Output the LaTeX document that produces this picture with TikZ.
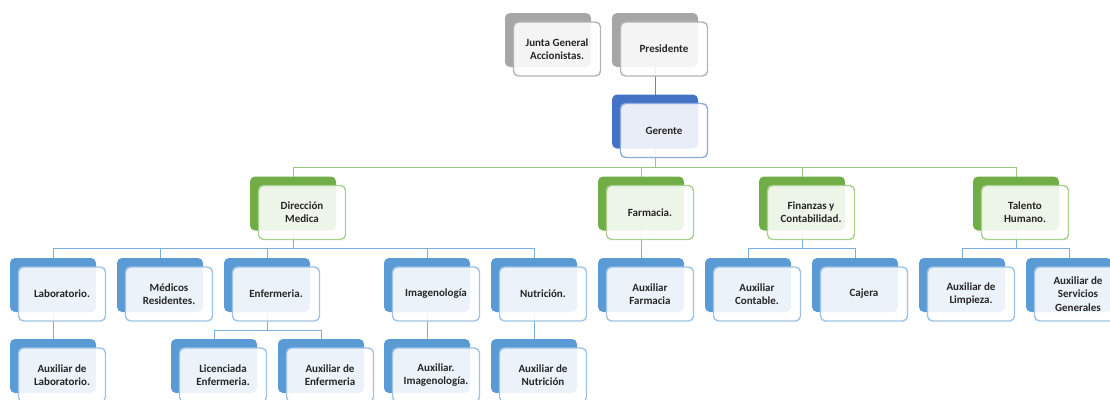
\documentclass[tikz,border=0pt]{standalone}
\usepackage{fontspec}
\setmainfont{Carlito}
\usepackage{tikz}
\usetikzlibrary{positioning, backgrounds}
\definecolor{grisA}{HTML}{A6A6A6}
\definecolor{grisB}{HTML}{B4B4B4}
\definecolor{azulA}{HTML}{4472C4}
\definecolor{azulB}{HTML}{8FAADC}
\definecolor{verdeA}{HTML}{70AD47}
\definecolor{verdeB}{HTML}{A9D18E}
\definecolor{celA}{HTML}{5B9BD5}
\definecolor{celB}{HTML}{9DC3E6}
\definecolor{texto}{HTML}{262626}
\tikzset{
x=1pt, y=-1pt, % pixel coordinates, y grows downwards
back/.style={rounded corners=5pt, minimum width=86pt, minimum height=54pt, inner sep=0pt}, % the dark card behind
front/.style={rounded corners=5pt, minimum width=87pt, minimum height=54pt, inner sep=1pt, line width=1.4pt, fill=white, fill opacity=0.88, text opacity=1, align=center, text=texto, font=\fontsize{11}{13.3}\selectfont\bfseries}, % the light card on top
gris/.style={fill=grisA, draw=grisB}, % top level
azul/.style={fill=azulA, draw=azulB}, % manager
verde/.style={fill=verdeA, draw=verdeB}, % departments
cel/.style={fill=celA, draw=celB}, % staff
linea/.style={line width=1.2pt}, % connectors
}
% one card: name, x, y (centre of the back card), colour style, text
\newcommand{\caja}[5]{
    \node[back, #4, draw=none] (#1-b) at (#2,#3) {};
    \node[front, #4, fill=white] (#1) at ([shift={(9,9)}]#1-b.center) {#5};
}

\begin{document}
\begin{tikzpicture}
                \clip (0,0) rectangle (1110,399);
                % level 0 and 1
                \caja{jun}{548}{40}{gris}{Junta General\\Accionistas.}
                \caja{pre}{655}{40}{gris}{Presidente}
                \caja{ger}{655}{121.5}{azul}{Gerente}
                % departments
                \caja{dir}{293}{203.5}{verde}{Dirección\\Medica}
                \caja{far}{641}{203.5}{verde}{Farmacia.}
                \caja{fin}{802}{203.5}{verde}{Finanzas y\\Contabilidad.}
                \caja{tal}{1016}{203.5}{verde}{Talento\\Humano.}
                % staff
                \caja{lab}{53}{285}{cel}{Laboratorio.}
                \caja{med}{160}{285}{cel}{Médicos\\Residentes.}
                \caja{enf}{267}{285}{cel}{Enfermeria.}
                \caja{ima}{427}{285}{cel}{Imagenología}
                \caja{nut}{534}{285}{cel}{Nutrición.}
                \caja{axf}{641}{285}{cel}{Auxiliar\\Farmacia}
                \caja{axc}{748}{285}{cel}{Auxiliar\\Contable.}
                \caja{caj}{855}{285}{cel}{Cajera}
                \caja{lim}{962}{285}{cel}{Auxiliar de\\Limpieza.}
                \caja{ser}{1069}{285}{cel}{Auxiliar de\\Servicios\\Generales}
                % assistants
                \caja{alb}{53}{366}{cel}{Auxiliar de\\Laboratorio.}
                \caja{lic}{214}{366}{cel}{Licenciada\\Enfermeria.}
                \caja{aen}{321}{366}{cel}{Auxiliar de\\Enfermeria}
                \caja{aim}{427}{366}{cel}{Auxiliar.\\Imagenología.}
                \caja{anu}{534}{366}{cel}{Auxiliar de\\Nutrición}
                % connectors
                \coordinate (bus-ger) at (655,167);
                \coordinate (bus-dir) at (293,248);
                \coordinate (bus-fin) at (802,248);
                \coordinate (bus-tal) at (1016,248);
                \coordinate (bus-enf) at (267,330);
                \begin{scope}[on background layer, linea]
                    \draw[azulA!85] (pre-b.center) -- (ger-b.center);
                    \draw[verdeA!70] (ger-b.center) -- (bus-ger) -| (dir-b.center)
                        (bus-ger) -| (tal-b.center)
                        (bus-ger) -| (far-b.center)
                        (bus-ger) -| (fin-b.center);
                    \draw[celA!80]
                        (dir-b.center) -- (bus-dir) -| (lab-b.center)
                        (bus-dir) -| (med-b.center)
                        (bus-dir) -| (enf-b.center)
                        (bus-dir) -| (nut-b.center)
                        (bus-dir) -| (ima-b.center)
                        (far-b.center) -- (axf-b.center)
                        (fin-b.center) -- (bus-fin) -| (axc-b.center)
                        (bus-fin) -| (caj-b.center)
                        (tal-b.center) -- (bus-tal) -| (lim-b.center)
                        (bus-tal) -| (ser-b.center)
                        (lab-b.center) -- (alb-b.center)
                        (enf-b.center) -- (bus-enf) -| (lic-b.center)
                        (bus-enf) -| (aen-b.center)
                        (ima-b.center) -- (aim-b.center)
                        (nut-b.center) -- (anu-b.center);
                \end{scope}
                \end{tikzpicture}
\end{document}
